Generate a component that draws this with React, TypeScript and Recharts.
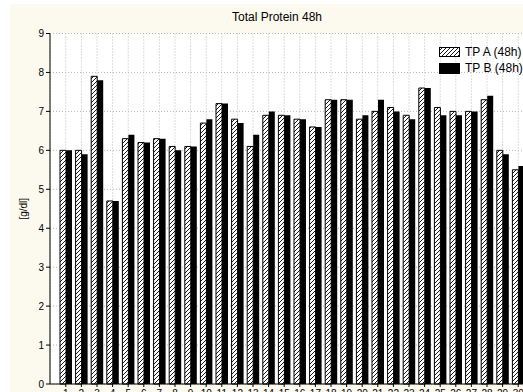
import { Bar, BarChart, CartesianGrid, XAxis, YAxis } from "recharts";

const categories = [
  "1", "2", "3", "4", "5", "6", "7", "8", "9", "10",
  "11", "12", "13", "14", "15", "16", "17", "18", "19", "20",
  "21", "22", "23", "24", "25", "26", "27", "28", "29", "30",
];
const tpA = [
  6.0, 6.0, 7.9, 4.7, 6.3, 6.2, 6.3, 6.1, 6.1, 6.7,
  7.2, 6.8, 6.1, 6.9, 6.9, 6.8, 6.6, 7.3, 7.3, 6.8,
  7.0, 7.1, 6.9, 7.6, 7.1, 7.0, 7.0, 7.3, 6.0, 5.5,
];
const tpB = [
  6.0, 5.9, 7.8, 4.7, 6.4, 6.2, 6.3, 6.0, 6.1, 6.8,
  7.2, 6.7, 6.4, 7.0, 6.9, 6.8, 6.6, 7.3, 7.3, 6.9,
  7.3, 7.0, 6.8, 7.6, 6.9, 6.9, 7.0, 7.4, 5.9, 5.6,
];
const yTicks = [0, 1, 2, 3, 4, 5, 6, 7, 8, 9];

const data = categories.map((name, i) => ({ name, a: tpA[i], b: tpB[i] }));

const font = "'Liberation Sans', Arial, sans-serif";
const cream = "#fcf9ee";
const grid = "#b8b8b8";

function Hatch({ id }: { id: string }) {
  return (
    <pattern id={id} patternUnits="userSpaceOnUse" width={4} height={4}>
      <rect width={4} height={4} fill="#fff" />
      <path d="M-1,1 L1,-1 M0,4 L4,0 M3,5 L5,3" stroke="#000" strokeWidth={0.9} />
    </pattern>
  );
}

function YLabel({ viewBox }: any) {
  const cy = viewBox.y + viewBox.height / 2;
  const x = viewBox.x + 13;
  return (
    <text
      x={x}
      y={cy}
      transform={`rotate(-90 ${x} ${cy})`}
      textAnchor="middle"
      dominantBaseline="central"
      fontSize={10}
      fontFamily={font}
      fill="#000"
    >
      [g/dl]
    </text>
  );
}

function LegendBox() {
  const row = { display: "flex", alignItems: "center", height: 16, whiteSpace: "nowrap" as const };
  return (
    <div style={{ position: "absolute", left: 429, top: 40, fontFamily: font, fontSize: 12 }}>
      <div style={row}>
        <svg width={21} height={10} style={{ marginRight: 5 }}>
          <defs>
            <Hatch id="hatchLegend" />
          </defs>
          <rect x={0.5} y={0.5} width={20} height={9} fill="url(#hatchLegend)" stroke="#000" />
        </svg>
        TP A (48h)
      </div>
      <div style={row}>
        <svg width={21} height={11} style={{ marginRight: 5 }}>
          <rect x={0} y={0} width={21} height={11} fill="#000" />
        </svg>
        TP B (48h)
      </div>
    </div>
  );
}

export default function App() {
  return (
    <div
      style={{
        position: "fixed",
        left: 0,
        top: 0,
        width: 523,
        height: 392,
        overflow: "hidden",
        background: "#fff",
      }}
    >
      <div
        style={{
          position: "absolute",
          left: 10,
          top: 4,
          width: 540,
          height: 400,
          background: cream,
        }}
      >
        <div
          style={{
            position: "absolute",
            left: 167,
            top: 7,
            width: 200,
            textAlign: "center",
            fontFamily: font,
            fontSize: 12,
            lineHeight: "13px",
          }}
        >
          Total Protein 48h
        </div>
        <BarChart
          width={524}
          height={400}
          data={data}
          margin={{ top: 29.5, right: 0, bottom: 0, left: 0 }}
          barGap={0}
          barSize={6}
        >
          <defs>
            <Hatch id="hatchA" />
          </defs>
          <CartesianGrid stroke={grid} strokeDasharray="1 2" fill="#fff" />
          <XAxis
            dataKey="name"
            height={20}
            padding={{ left: 8, right: 8 }}
            interval={0}
            stroke="#000"
            tickSize={3}
            tickMargin={3}
            tick={{ fontSize: 10, fontFamily: font, fill: "#000" }}
          />
          <XAxis
            xAxisId="top"
            dataKey="name"
            orientation="top"
            mirror
            height={0}
            padding={{ left: 8, right: 8 }}
            interval={0}
            stroke="#000"
            tickSize={3}
            tickFormatter={() => ""}
          />
          <YAxis
            width={40}
            domain={[0, 9]}
            ticks={yTicks}
            interval={0}
            stroke="#000"
            tickSize={4}
            tickMargin={2}
            tick={{ fontSize: 10, fontFamily: font, fill: "#000" }}
            label={{ content: YLabel }}
          />
          <Bar dataKey="a" fill="url(#hatchA)" stroke="#000" strokeWidth={1} isAnimationActive={false} />
          <Bar dataKey="b" fill="#000" isAnimationActive={false} />
        </BarChart>
        <LegendBox />
      </div>
    </div>
  );
}
